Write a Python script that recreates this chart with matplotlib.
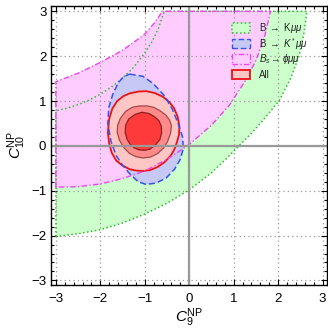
"""
Allowed regions in the (C9_NP, C10_NP) plane from B -> K mumu, B -> K* mumu,
Bs -> phi mumu and the combined fit.

Output: out.png
"""
import matplotlib.pyplot as plt
from matplotlib.patches import Rectangle

plt.rcParams["font.family"] = ["Liberation Sans", "DejaVu Sans"]
plt.rcParams["mathtext.fontset"] = "custom"
plt.rcParams["mathtext.rm"] = "Liberation Sans"
plt.rcParams["mathtext.it"] = "Liberation Sans:italic"
plt.rcParams["mathtext.bf"] = "Liberation Sans:bold"

# ---- Region boundaries (C9, C10) ----
# B -> K mumu band: upper and lower edges, clipped to the scan box
KMM_UP_X = [-3.0, -2.75, -2.5, -2.25, -2.0, -1.75, -1.5, -1.25, -1.0, -0.85, -0.7, -0.56]
KMM_UP_Y = [0.78, 0.84, 0.92, 1.02, 1.15, 1.31, 1.51, 1.75, 2.07, 2.3, 2.6, 3.0]
KMM_LO_X = [-3.0, -2.5, -2.0, -1.5, -1.0, -0.5, 0.0, 0.5, 0.8, 1.12, 1.37, 1.6, 2.02, 2.28, 2.47, 2.58, 2.65]
KMM_LO_Y = [-2.02, -1.96, -1.87, -1.72, -1.52, -1.28, -0.98, -0.6, -0.32, 0.0, 0.25, 0.5, 1.0, 1.5, 2.0, 2.5, 3.0]

# Bs -> phi mumu band
PHI_UP_X = [-3.0, -2.5, -2.02, -1.5, -1.01, -0.8, -0.6]
PHI_UP_Y = [1.43, 1.62, 1.85, 2.13, 2.48, 2.72, 3.0]
PHI_LO_X = [-3.0, -2.5, -2.0, -1.5, -1.0, -0.5, 0.0, 0.5, 0.9, 1.25, 1.5, 1.7, 1.83]
PHI_LO_Y = [-0.92, -0.91, -0.85, -0.73, -0.56, -0.3, 0.03, 0.46, 0.9, 1.43, 1.9, 2.45, 3.0]

# B -> K* mumu closed region
KST_X = [-1.34, -1.04, -0.8, -0.56, -0.38, -0.25, -0.15, -0.13, -0.2, -0.33, -0.52, -0.75,
         -0.97, -1.15, -1.36, -1.52, -1.64, -1.76, -1.83, -1.81, -1.72, -1.6, -1.48]
KST_Y = [1.6, 1.55, 1.38, 1.12, 0.82, 0.5, 0.2, -0.05, -0.3, -0.52, -0.72, -0.83,
         -0.86, -0.8, -0.6, -0.4, -0.22, 0.1, 0.5, 0.85, 1.15, 1.4, 1.54]

# Combined fit: 3, 2, 1 sigma contours
ALL3_X = [-0.97, -0.78, -0.6, -0.45, -0.34, -0.26, -0.22, -0.23, -0.27, -0.33, -0.41, -0.55,
          -0.71, -0.88, -1.04, -1.2, -1.34, -1.5, -1.64, -1.74, -1.8, -1.83, -1.8, -1.73,
          -1.62, -1.48, -1.34, -1.15]
ALL3_Y = [1.22, 1.18, 1.1, 0.98, 0.84, 0.65, 0.43, 0.25, 0.1, -0.07, -0.21, -0.36,
          -0.47, -0.54, -0.56, -0.55, -0.52, -0.44, -0.33, -0.16, 0.05, 0.3, 0.6, 0.83,
          1.0, 1.11, 1.17, 1.21]
ALL2_X = [-1.12, -0.95, -0.8, -0.65, -0.52, -0.44, -0.4, -0.42, -0.49, -0.58, -0.71, -0.87,
          -1.04, -1.2, -1.34, -1.47, -1.57, -1.62, -1.61, -1.55, -1.43, -1.28]
ALL2_Y = [0.89, 0.89, 0.86, 0.78, 0.68, 0.57, 0.45, 0.28, 0.09, -0.05, -0.17, -0.25,
          -0.27, -0.24, -0.17, -0.04, 0.13, 0.3, 0.46, 0.61, 0.77, 0.86]
ALL1_X = [-1.06, -0.9, -0.78, -0.68, -0.63, -0.62, -0.66, -0.76, -0.88, -1.0, -1.12, -1.23,
          -1.33, -1.4, -1.44, -1.43, -1.36, -1.22]
ALL1_Y = [0.75, 0.72, 0.65, 0.56, 0.44, 0.29, 0.14, 0.02, -0.07, -0.1, -0.09, -0.05,
          0.04, 0.15, 0.3, 0.46, 0.6, 0.7]

LEGEND_LABELS = [r"B $\rightarrow$ K$\mu\mu$",
                 r"B $\rightarrow$ $K^{*}\,\mu\mu$",
                 r"$B_s\rightarrow\phi\mu\mu$",
                 "All"]

# ---- Style ----
GREEN_FILL, GREEN_EDGE = "#ccffcc", "#33bb33"
PINK_FILL, PINK_EDGE = "#ffccff", "#ee44ee"
BLUE_FILL, BLUE_EDGE = "#c6c8f6", "#3355ee"
RED3_FILL, RED3_EDGE = "#ffc6c6", "#ee1111"
RED2_FILL, RED2_EDGE = "#ff8a8a", "#a04a4a"
RED1_FILL, RED1_EDGE = "#ff3a3a", "#8a2222"
DOT = (0, (1, 1.6))
DASH = (0, (4, 2))
DASHDOT = (0, (4, 1.6, 1, 1.6))


def band(up_x, up_y, lo_x, lo_y):
    """Closed outline of a band clipped to the left edge and the top edge."""
    xs = [lo_x[0]] + list(up_x) + list(lo_x[::-1])
    ys = [lo_y[0]] + list(up_y) + list(lo_y[::-1])
    return xs, ys


def draw_region(ax, xs, ys, face, edge, ls, lw, z):
    ax.fill(xs, ys, facecolor=face, edgecolor="none", zorder=z)
    ax.fill(xs, ys, facecolor="none", edgecolor=edge, linestyle=ls,
            linewidth=lw, zorder=7)


def main():
    fig = plt.figure(figsize=(3.28, 3.29), dpi=100)
    ax = fig.add_axes([0.154, 0.134, 0.843, 0.848])

    kx, ky = band(KMM_UP_X, KMM_UP_Y, KMM_LO_X, KMM_LO_Y)
    px, py = band(PHI_UP_X, PHI_UP_Y, PHI_LO_X, PHI_LO_Y)
    draw_region(ax, kx, ky, GREEN_FILL, GREEN_EDGE, DOT, 1.1, 1)
    draw_region(ax, px, py, PINK_FILL, PINK_EDGE, DASHDOT, 1.0, 2)
    draw_region(ax, KST_X, KST_Y, BLUE_FILL, BLUE_EDGE, DASH, 1.1, 3)
    ax.fill(ALL3_X, ALL3_Y, facecolor=RED3_FILL, edgecolor=RED3_EDGE, lw=1.3, zorder=4)
    ax.fill(ALL2_X, ALL2_Y, facecolor=RED2_FILL, edgecolor=RED2_EDGE, lw=0.9, zorder=5)
    ax.fill(ALL1_X, ALL1_Y, facecolor=RED1_FILL, edgecolor=RED1_EDGE, lw=0.9, zorder=6)

    ax.axhline(0, color="#999999", lw=1.6, zorder=8)
    ax.axvline(0, color="#999999", lw=1.6, zorder=8)

    ax.set_xlim(-3.12, 3.1)
    ax.set_ylim(-3.1, 3.12)
    ticks = [-3, -2, -1, 0, 1, 2, 3]
    ax.set_xticks(ticks)
    ax.set_yticks(ticks)
    ax.set_xticklabels(["\u22123", "\u22122", "\u22121", "0", "1", "2", "3"])
    ax.set_yticklabels(["\u22123", "\u22122", "\u22121", "0", "1", "2", "3"])
    minor = [i / 5 for i in range(-15, 16)]
    ax.set_xticks(minor, minor=True)
    ax.set_yticks(minor, minor=True)
    ax.tick_params(which="both", direction="in", top=True, right=True,
                   width=0.8, labelsize=9.5)
    ax.tick_params(which="major", length=4)
    ax.tick_params(which="minor", length=2)
    ax.tick_params(axis="x", pad=6)
    ax.tick_params(axis="y", pad=3)
    ax.grid(True, which="major", color="#9a9a9a", linestyle=(0, (1, 2.5)),
            linewidth=0.9, zorder=2.5)
    ax.set_axisbelow(False)
    for line in ax.get_xgridlines() + ax.get_ygridlines():
        line.set_zorder(2.5)
    for sp in ax.spines.values():
        sp.set_linewidth(1.0)
        sp.set_zorder(9)

    ax.set_xlabel(r"$C_9^{\mathrm{NP}}$", fontsize=11, labelpad=1)
    ax.set_ylabel(r"$C_{10}^{\mathrm{NP}}$", fontsize=11, labelpad=2)

    # ---- Legend (drawn in axes coordinates) ----
    styles = [(GREEN_FILL, GREEN_EDGE, DOT, 1.1),
              (BLUE_FILL, BLUE_EDGE, DASH, 1.0),
              (PINK_FILL, PINK_EDGE, DASHDOT, 1.0),
              (RED3_FILL, RED3_EDGE, "-", 1.3)]
    x0, w, h = 0.656, 0.065, 0.034
    y_top, step = 0.92, 0.0555
    for i, (label, (fc, ec, ls, lw)) in enumerate(zip(LEGEND_LABELS, styles)):
        yc = y_top - i * step
        ax.add_patch(Rectangle((x0, yc - h / 2), w, h, transform=ax.transAxes,
                               facecolor=fc, edgecolor=ec, linestyle=ls,
                               linewidth=lw, zorder=10))
        ax.text(x0 + w + 0.033, yc, label, transform=ax.transAxes,
                ha="left", va="center", fontsize=7, color="#222222", zorder=10)

    fig.savefig("out.png", dpi=100, facecolor="white")
    plt.close(fig)


if __name__ == "__main__":
    main()
